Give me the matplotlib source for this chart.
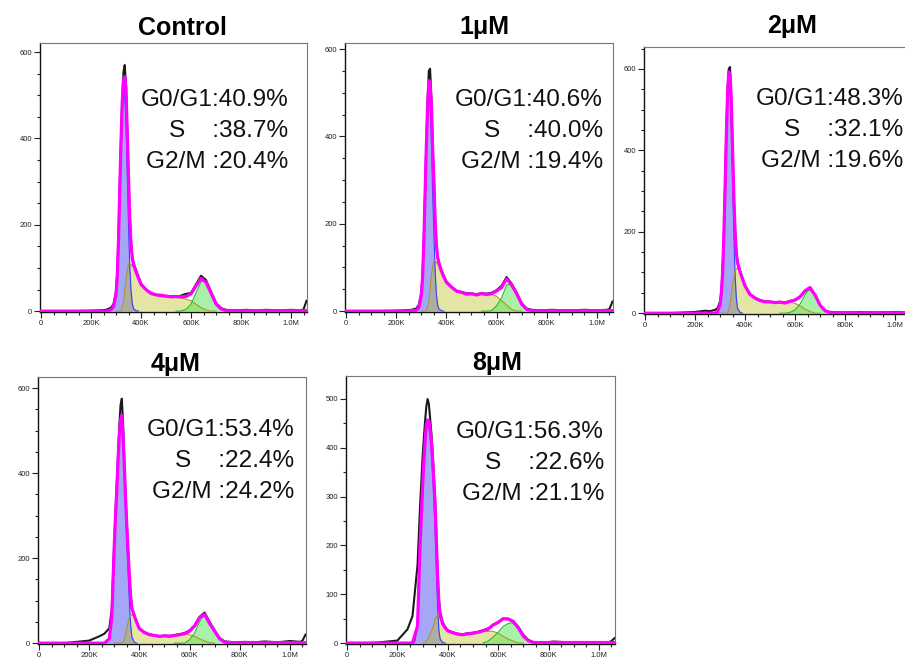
import numpy as np
import matplotlib.pyplot as plt
from matplotlib.ticker import MultipleLocator, FixedLocator

plt.rcParams['font.family'] = ['Liberation Sans', 'DejaVu Sans']

# ================= 1. data =================
titles = ['Control', '1μM', '2μM', '4μM', '8μM']
g1_pct = [40.9, 40.6, 48.3, 53.4, 56.3]
s_pct = [38.7, 40.0, 32.1, 22.4, 22.6]
g2_pct = [20.4, 19.4, 19.6, 24.2, 21.1]

# channel positions (K) for the histogram / fit curves
x_hist = [0, 100, 200, 240, 260, 280, 290, 300, 305, 310, 315, 320, 325, 330, 335,
          340, 345, 350, 355, 360, 365, 370, 380, 390, 400, 420, 440, 460, 480, 500,
          520, 540, 560, 580, 600, 620, 640, 660, 680, 700, 720, 740, 780, 820, 860,
          900, 950, 1000, 1040, 1050, 1062]
# channel positions (K) for the model components
g1_x = [260, 270, 280, 290, 300, 305, 310, 315, 320, 325, 330, 335, 340, 345, 350,
        355, 360, 365, 370, 380, 390]
s_x = [300, 310, 320, 330, 340, 350, 360, 370, 380, 390, 400, 420, 440, 460, 480,
       500, 520, 540, 560, 580, 600, 620, 640, 660, 680, 700]
g2_x = [540, 560, 580, 600, 620, 640, 650, 660, 680, 700, 720, 740, 760]

# Control
ctrl_data = [0, 0, 1, 2, 3, 8, 16, 45, 90, 170, 290, 400, 490, 555, 570, 520, 420, 312, 222, 160,
             128, 112, 95, 80, 64, 50, 42, 37, 38, 34, 35, 33, 36, 40, 42, 62, 82, 72, 45, 19,
             7, 3, 2, 3, 2, 3, 2, 3, 2, 4, 24]
ctrl_fit = [0, 0, 0, 0, 0, 3, 10, 38, 80, 165, 280, 390, 485, 535, 543, 515, 413, 310, 214, 156,
            123, 108, 91, 76, 62, 50, 41, 38, 36, 35, 33, 34, 33, 34, 40, 58, 76, 67, 42, 17,
            5, 1, 1, 1, 1, 1, 1, 1, 1, 1, 1]
ctrl_g1 = [0, 0, 3, 10, 38, 80, 165, 280, 390, 475, 515, 495, 440, 320, 200, 105, 48, 18, 6, 1, 0]
ctrl_s = [0, 0, 0, 20, 75, 110, 108, 102, 90, 76, 62, 48, 40, 36, 34, 33, 32, 31, 30, 28, 24, 16, 8, 3, 0, 0]
ctrl_g2 = [0, 0, 4, 16, 42, 68, 70, 64, 42, 16, 4, 0, 0]

# 1uM
um1_data = [0, 0, 1, 2, 3, 6, 14, 42, 82, 162, 272, 385, 478, 550, 555, 490, 385, 310, 215, 155,
            125, 112, 94, 80, 68, 56, 47, 44, 41, 40, 39, 41, 40, 42, 48, 58, 78, 63, 42, 18,
            6, 3, 2, 3, 2, 2, 3, 2, 3, 5, 22]
um1_fit = [0, 0, 0, 0, 1, 2, 8, 35, 75, 155, 265, 375, 465, 528, 518, 480, 375, 303, 210, 152,
           123, 110, 92, 78, 66, 55, 46, 43, 39, 40, 37, 40, 38, 40, 46, 54, 74, 60, 40, 16,
           4, 1, 1, 1, 1, 1, 1, 1, 1, 1, 1]
um1_g1 = [0, 0, 2, 8, 35, 75, 155, 265, 375, 455, 500, 470, 400, 275, 185, 95, 40, 15, 5, 1, 0]
um1_s = [0, 0, 0, 20, 80, 118, 112, 105, 92, 78, 66, 54, 46, 42, 39, 38, 38, 38, 38, 38, 34, 24, 14, 4, 0, 0]
um1_g2 = [0, 0, 1, 12, 30, 60, 62, 56, 40, 16, 4, 0, 0]

# 2uM
um2_data = [0, 0, 3, 6, 5, 8, 12, 28, 52, 100, 185, 305, 440, 548, 600, 605, 520, 405, 290, 205,
            152, 126, 104, 86, 68, 47, 38, 32, 29, 28, 27, 28, 26, 30, 33, 40, 54, 60, 44, 20,
            7, 3, 2, 2, 3, 2, 2, 3, 2, 3, 8]
um2_fit = [0, 0, 0, 0, 0, 0, 3, 20, 45, 95, 180, 300, 430, 535, 593, 588, 525, 410, 293, 205,
           150, 124, 102, 84, 67, 46, 37, 31, 28, 28, 26, 27, 25, 29, 32, 40, 55, 63, 45, 20,
           6, 1, 1, 1, 1, 1, 1, 1, 1, 1, 1]
um2_g1 = [0, 0, 0, 3, 20, 45, 95, 180, 300, 430, 535, 585, 570, 480, 340, 205, 100, 40, 12, 2, 0]
um2_s = [0, 0, 0, 0, 20, 70, 105, 112, 100, 82, 66, 46, 36, 30, 28, 27, 26, 26, 26, 27, 24, 18, 10, 4, 0, 0]
um2_g2 = [0, 0, 2, 8, 22, 45, 55, 59, 45, 20, 6, 1, 0]

# 4uM
um4_data = [0, 0, 6, 16, 22, 35, 80, 240, 310, 375, 445, 510, 560, 575, 520, 420, 345, 280, 215, 162,
            112, 82, 65, 48, 35, 26, 20, 19, 16, 18, 17, 19, 21, 24, 30, 42, 62, 72, 50, 30,
            12, 4, 2, 3, 2, 4, 2, 5, 3, 6, 20]
um4_fit = [0, 0, 0, 0, 0, 10, 60, 230, 300, 360, 430, 490, 525, 536, 485, 418, 340, 275, 213, 160,
           110, 83, 64, 48, 34, 25, 20, 18, 16, 17, 16, 18, 20, 22, 28, 40, 60, 68, 46, 28,
           10, 2, 1, 1, 1, 1, 1, 1, 1, 1, 1]
um4_g1 = [0, 1, 10, 60, 230, 300, 360, 430, 490, 525, 530, 480, 410, 320, 240, 165, 100, 45, 15, 2, 0]
um4_s = [0, 0, 0, 0, 8, 35, 60, 68, 62, 48, 34, 24, 20, 17, 16, 16, 16, 18, 20, 22, 20, 16, 10, 5, 1, 0]
um4_g2 = [0, 0, 0, 8, 24, 50, 60, 63, 45, 28, 10, 2, 0]

# 8uM
um8_data = [0, 0, 5, 28, 55, 160, 280, 380, 420, 455, 485, 500, 490, 460, 430, 390, 340, 290, 215, 140,
            90, 62, 42, 33, 26, 22, 19, 18, 20, 21, 23, 26, 30, 37, 43, 49, 50, 45, 33, 17,
            6, 2, 1, 3, 2, 1, 2, 1, 2, 4, 10]
um8_fit = [0, 0, 0, 0, 0, 35, 200, 320, 372, 412, 446, 457, 455, 438, 413, 375, 330, 280, 205, 128,
           80, 58, 39, 31, 25, 21, 18, 17, 19, 20, 22, 25, 28, 37, 42, 50, 49, 44, 31, 14,
           5, 1, 1, 1, 1, 1, 1, 1, 1, 1, 1]
um8_g1 = [0, 3, 35, 200, 320, 370, 410, 440, 450, 445, 420, 390, 345, 290, 230, 150, 70, 25, 8, 1, 0]
um8_s = [0, 0, 8, 18, 30, 50, 58, 50, 38, 30, 24, 20, 18, 17, 18, 19, 21, 24, 24, 24, 20, 14, 8, 4, 0, 0]
um8_g2 = [0, 4, 12, 22, 34, 40, 41, 40, 30, 14, 5, 1, 0]

all_data = [ctrl_data, um1_data, um2_data, um4_data, um8_data]
all_fit = [ctrl_fit, um1_fit, um2_fit, um4_fit, um8_fit]
all_g1 = [ctrl_g1, um1_g1, um2_g1, um4_g1, um8_g1]
all_s = [ctrl_s, um1_s, um2_s, um4_s, um8_s]
all_g2 = [ctrl_g2, um1_g2, um2_g2, um4_g2, um8_g2]

x_ticks = [0, 200, 400, 600, 800, 1000]
x_ticklabels = ['0', '200K', '400K', '600K', '800K', '1.0M']

# ================= 2. layout (pixels) =================
W, H = 905, 662
boxes = [(40, 43, 307, 312), (345, 43, 613, 312), (644, 47, 911, 314),
         (38, 377, 306, 644), (346, 376, 615, 644)]
ytops = [621, 614, 654, 626, 547]
ysteps = [200, 200, 200, 200, 100]
title_pos = [(182, 28), (484, 27), (792, 26), (176, 364), (497, 363)]
text_pos = [(288, 100), (603, 100), (903, 99), (294, 430), (604, 432)]
line_gap = 31

fig = plt.figure(figsize=(W / 100, H / 100), dpi=100)

# ================= 3. panels =================
for i in range(5):
    l, t, r, b = boxes[i]
    ax = fig.add_axes([l / W, 1 - b / H, (r - l) / W, (b - t) / H])

    # model components
    ax.fill_between(g1_x, 0, all_g1[i], color='#a6a6f7', lw=0, zorder=1)
    ax.fill_between(s_x, 0, all_s[i], color='#bcbc1e', alpha=0.4, lw=0, zorder=2)
    ax.fill_between(g2_x, 0, all_g2[i], color='#4ce24c', alpha=0.48, lw=0, zorder=3)
    ax.plot(g1_x, all_g1[i], color='#3a3aff', lw=0.8, zorder=4)
    ax.plot(s_x, all_s[i], color='#a89a2a', lw=0.8, zorder=4)
    ax.plot(g2_x, all_g2[i], color='#22bb22', lw=0.8, zorder=4)

    # raw histogram and fitted curve
    ax.plot(x_hist, all_data[i], color='#1a1a1a', lw=1.5, zorder=5)
    ax.plot(x_hist, all_fit[i], color='#ff00ff', lw=2.3, zorder=6)

    ax.set_xlim(-4, 1064)
    ax.set_ylim(-2, ytops[i])
    ax.xaxis.set_major_locator(FixedLocator(x_ticks))
    ax.set_xticklabels(x_ticklabels)
    ax.xaxis.set_minor_locator(MultipleLocator(50))
    ax.yaxis.set_major_locator(MultipleLocator(ysteps[i]))
    ax.yaxis.set_minor_locator(MultipleLocator(50))
    ax.tick_params(which='both', direction='out', width=0.8, labelsize=5.5,
                   pad=1.5, colors='#222222')
    ax.tick_params(which='major', length=4)
    ax.tick_params(which='minor', length=2.5)

    for side in ['top', 'right']:
        ax.spines[side].set_color('#777777')
        ax.spines[side].set_linewidth(0.8)
    for side in ['left', 'bottom']:
        ax.spines[side].set_color('#111111')
        ax.spines[side].set_linewidth(1.0)

    # title and percentages
    tx, ty = title_pos[i]
    fig.text(tx / W, 1 - ty / H, titles[i], ha='center', va='center',
             fontsize=18, fontweight='bold')
    rx, ry = text_pos[i]
    lines = [f'G0/G1:{g1_pct[i]:.1f}%', f'S    :{s_pct[i]:.1f}%', f'G2/M :{g2_pct[i]:.1f}%']
    for k, s in enumerate(lines):
        fig.text(rx / W, 1 - (ry + k * line_gap) / H, s, ha='right', va='center',
                 fontsize=17.6, color='#111111')

fig.savefig('out.png', dpi=100)
